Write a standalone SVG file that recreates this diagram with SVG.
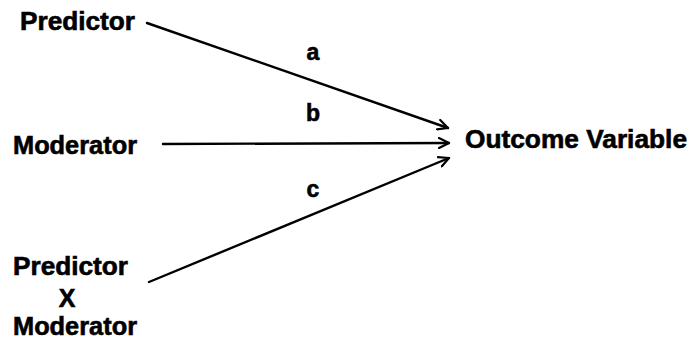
<svg xmlns="http://www.w3.org/2000/svg" width="692" height="339" viewBox="0 0 692 339">
<style>
text{font-family:"Liberation Sans",Arial,sans-serif;font-weight:bold;fill:#000;stroke:#000;stroke-width:0.6}
.n{font-size:25px}
.l{font-size:23px}
.c{fill:none;stroke:#000;stroke-width:2.4;stroke-linecap:round}
</style>
<defs>
<marker id="ah" viewBox="0 0 12 12" refX="11" refY="6" markerWidth="12" markerHeight="12" markerUnits="userSpaceOnUse" orient="auto">
<path d="M1,1 L11,6 L1,11" fill="none" stroke="#000" stroke-width="2.2" stroke-linecap="round" stroke-linejoin="round"/>
</marker>
</defs>
<rect width="692" height="339" fill="#fff"/>
<g id="predictor"><text class="n" x="20" y="30" textLength="115" lengthAdjust="spacingAndGlyphs">Predictor</text></g>
<g id="moderator"><text class="n" x="13" y="154" textLength="124" lengthAdjust="spacingAndGlyphs">Moderator</text></g>
<g id="interaction">
<text class="n" x="13" y="275" textLength="115" lengthAdjust="spacingAndGlyphs">Predictor</text>
<text class="n" x="67" y="307" text-anchor="middle">X</text>
<text class="n" x="13" y="335" textLength="124" lengthAdjust="spacingAndGlyphs">Moderator</text>
</g>
<g id="outcome"><text class="n" x="465" y="148" textLength="222" lengthAdjust="spacingAndGlyphs">Outcome Variable</text></g>
<g id="connectors">
<line class="c" x1="147" y1="23" x2="448" y2="128" marker-end="url(#ah)"/>
<line class="c" x1="163" y1="144" x2="449" y2="143" marker-end="url(#ah)"/>
<line class="c" x1="149" y1="282" x2="449" y2="158" marker-end="url(#ah)"/>
<text class="l" x="313" y="60" text-anchor="middle">a</text>
<text class="l" x="313" y="121" text-anchor="middle">b</text>
<text class="l" x="313" y="197" text-anchor="middle">c</text>
</g>
</svg>
